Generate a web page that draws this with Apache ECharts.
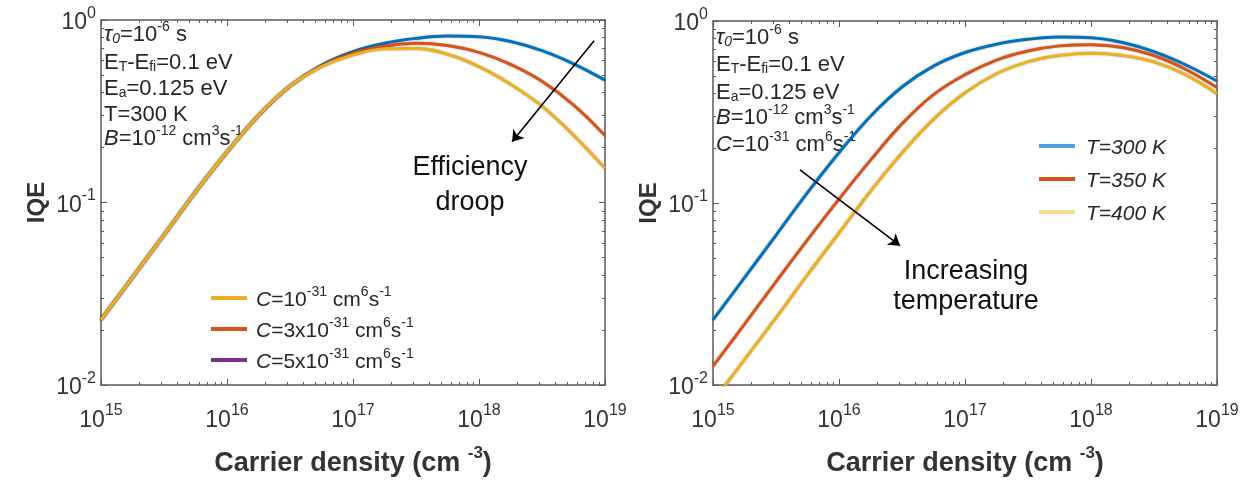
<!DOCTYPE html>
<html>
<head>
<meta charset="utf-8">
<script src="https://cdn.jsdelivr.net/npm/echarts@6/dist/echarts.min.js"></script>
<style>
  html, body { margin: 0; padding: 0; background: #fff; }
  #chart { width: 1249px; height: 482px; }
</style>
</head>
<body>
<div id="chart"></div>
<script>
// ---- data ----
const carrierDensity = [1e15, 1.78e15, 3.16e15, 5.62e15, 1e16, 1.78e16, 3.16e16, 5.62e16, 1e17, 1.78e17, 3.16e17, 5.62e17, 1e18, 1.78e18, 3.16e18, 5.62e18, 1e19];

// left panel: varying Auger coefficient C
const iqeC1 = [0.0228, 0.0389, 0.0664, 0.114, 0.189, 0.300, 0.434, 0.565, 0.671, 0.746, 0.793, 0.817, 0.809, 0.762, 0.679, 0.575, 0.468];
const iqeC3 = [0.0228, 0.0389, 0.0664, 0.114, 0.189, 0.300, 0.434, 0.560, 0.658, 0.721, 0.745, 0.724, 0.665, 0.572, 0.462, 0.343, 0.233];
const iqeC5 = [0.0228, 0.0389, 0.0664, 0.114, 0.189, 0.300, 0.434, 0.555, 0.643, 0.695, 0.698, 0.649, 0.556, 0.445, 0.337, 0.234, 0.154];

// right panel: varying temperature
const iqeT300 = [0.0228, 0.0389, 0.0664, 0.114, 0.189, 0.300, 0.434, 0.565, 0.671, 0.746, 0.793, 0.817, 0.809, 0.762, 0.679, 0.575, 0.468];
const iqeT350 = [0.0127, 0.0216, 0.0369, 0.0627, 0.105, 0.172, 0.272, 0.394, 0.507, 0.610, 0.684, 0.730, 0.741, 0.716, 0.646, 0.543, 0.431];
const iqeT400 = [0.00813, 0.0138, 0.0234, 0.0403, 0.0684, 0.116, 0.188, 0.288, 0.403, 0.513, 0.596, 0.646, 0.665, 0.646, 0.596, 0.507, 0.398];

// annotation arrows (data coordinates)
const droopArrow = [[8.2e18, 0.77], [1.83e18, 0.215]];
const tempArrow = [[4.9e15, 0.152], [3.05e16, 0.0583]];

// ---- styling ----
const F = '"Liberation Sans", Arial, Helvetica, sans-serif';
const BLUE = '#0072BD', RED = '#D95319', YEL = '#EDB120', PURP = '#7E2F8E';
const AXC = '#5a5a5a';
const TXT = '#262626';

const pair = (ys) => carrierDensity.map((x, i) => [x, ys[i]]);

const tickRich = {
  b: { fontSize: 23, lineHeight: 29, verticalAlign: 'bottom', fontFamily: F, color: '#333' },
  s: { fontSize: 16, lineHeight: 16, verticalAlign: 'top', fontFamily: F, color: '#333' }
};
const expFmt = (v) => '{b|10}{s|' + Math.round(Math.log10(v)) + '}';

function xAx(grid, pos, main) {
  return {
    type: 'log', gridIndex: grid, position: pos, min: 1e15, max: 1e19, logBase: 10,
    splitNumber: 4,
    axisLine: { show: true, onZero: false, lineStyle: { color: AXC, width: 1.5 } },
    axisTick: { show: true, inside: true, length: 6, lineStyle: { color: AXC, width: 1 } },
    minorTick: { show: true, splitNumber: 9, length: 3, lineStyle: { color: AXC, width: 1 } },
    splitLine: { show: false },
    axisLabel: main ? { show: true, margin: 18, formatter: expFmt, rich: tickRich } : { show: false },
    name: main ? '{b|Carrier density (cm }{s|-3}{b|)}' : '',
    nameLocation: 'middle', nameGap: 60,
    nameTextStyle: {
      rich: {
        b: { fontSize: 27, fontWeight: 'bold', fontFamily: F, color: '#333', lineHeight: 32, verticalAlign: 'bottom' },
        s: { fontSize: 17, fontWeight: 'bold', fontFamily: F, color: '#333', lineHeight: 17, verticalAlign: 'top' }
      }
    }
  };
}
function yAx(grid, pos, main) {
  return {
    type: 'log', gridIndex: grid, position: pos, min: 0.01, max: 1, logBase: 10,
    splitNumber: 2,
    axisLine: { show: true, onZero: false, lineStyle: { color: AXC, width: 1.5 } },
    axisTick: { show: true, inside: true, length: 6, lineStyle: { color: AXC, width: 1 } },
    minorTick: { show: true, splitNumber: 9, length: 3, lineStyle: { color: AXC, width: 1 } },
    splitLine: { show: false },
    axisLabel: main ? { show: true, margin: 5, formatter: expFmt, rich: tickRich } : { show: false },
    name: main ? 'IQE' : '',
    nameLocation: 'middle', nameGap: 52, nameRotate: 90,
    nameTextStyle: { fontSize: 24, fontWeight: 'bold', fontFamily: F, color: '#333' }
  };
}

const lineStyleOf = (c) => ({ color: c, width: 3, shadowColor: 'rgba(0,0,0,0.35)', shadowBlur: 2 });
function lineSeries(name, ys, c, xi, yi, extra) {
  return Object.assign({
    name, type: 'line', xAxisIndex: xi, yAxisIndex: yi, data: pair(ys),
    smooth: 0.4, showSymbol: false, symbol: 'none', clip: true,
    color: c, lineStyle: lineStyleOf(c), z: 3
  }, extra || {});
}
function arrowMark(pts) {
  return {
    silent: true, animation: false,
    symbol: ['none', 'arrow'], symbolSize: 11,
    label: { show: false },
    emphasis: { disabled: true },
    lineStyle: { color: '#000', width: 1.6, type: 'solid' },
    itemStyle: { color: '#000' },
    data: [[{ coord: pts[0] }, { coord: pts[1] }]]
  };
}

// rich text for parameter annotations
const PR = {
  n: { fontSize: 22, lineHeight: 26, verticalAlign: 'bottom', fontFamily: F, fill: TXT },
  i: { fontSize: 22, lineHeight: 26, verticalAlign: 'bottom', fontFamily: F, fontStyle: 'italic', fill: TXT },
  sup: { fontSize: 14, lineHeight: 14, verticalAlign: 'top', fontFamily: F, fill: TXT },
  sub: { fontSize: 14, lineHeight: 14, verticalAlign: 'bottom', fontFamily: F, fill: TXT },
  isub: { fontSize: 14, lineHeight: 14, verticalAlign: 'bottom', fontFamily: F, fontStyle: 'italic', fill: TXT }
};
const L_TAU = '{i|τ}{isub|0}{n|=10}{sup|-6}{n| s}';
const L_ET = '{n|E}{sub|T}{n|-E}{sub|fi}{n|=0.1 eV}';
const L_EA = '{n|E}{sub|a}{n|=0.125 eV}';
const L_T = '{n|T=300 K}';
const L_B = '{i|B}{n|=10}{sup|-12}{n| cm}{sup|3}{n|s}{sup|-1}';
const L_C = '{i|C}{n|=10}{sup|-31}{n| cm}{sup|6}{n|s}{sup|-1}';

function ptext(x, y, t) {
  return { type: 'text', left: x, top: y, silent: true, style: { text: t, rich: PR, fill: TXT } };
}
function ctext(cx, y, t) {
  return {
    type: 'text', x: cx, y: y, silent: true,
    style: { text: t, fontSize: 27, fontFamily: F, fill: '#111', align: 'center', verticalAlign: 'middle' }
  };
}

const legendRich = {
  n: { fontSize: 21, lineHeight: 26, verticalAlign: 'bottom', fontFamily: F, color: TXT },
  i: { fontSize: 21, lineHeight: 26, verticalAlign: 'bottom', fontFamily: F, fontStyle: 'italic', color: TXT },
  sup: { fontSize: 14, lineHeight: 14, verticalAlign: 'top', fontFamily: F, color: TXT }
};
const cLabels = {
  'C1': '{i|C}{n|=10}{sup|-31}{n| cm}{sup|6}{n|s}{sup|-1}',
  'C3': '{i|C}{n|=3x10}{sup|-31}{n| cm}{sup|6}{n|s}{sup|-1}',
  'C5': '{i|C}{n|=5x10}{sup|-31}{n| cm}{sup|6}{n|s}{sup|-1}'
};
const tLabels = { 'T300': '{i|T=300 K}', 'T350': '{i|T=350 K}', 'T400': '{i|T=400 K}' };

const chart = echarts.init(document.getElementById('chart'), null, { renderer: 'canvas' });
chart.setOption({
  animation: false,
  backgroundColor: '#fff',
  grid: [
    { left: 101, top: 20, width: 504, height: 369, containLabel: false },
    { left: 713, top: 21, width: 504, height: 368, containLabel: false }
  ],
  xAxis: [xAx(0, 'bottom', true), xAx(0, 'top', false), xAx(1, 'bottom', true), xAx(1, 'top', false)],
  yAxis: [yAx(0, 'left', true), yAx(0, 'right', false), yAx(1, 'left', true), yAx(1, 'right', false)],
  legend: [
    {
      orient: 'vertical', left: 206, top: 280, itemGap: 5, itemWidth: 36, itemHeight: 4, icon: 'rect',
      selectedMode: false,
      data: [
        { name: 'C1', itemStyle: { color: YEL } },
        { name: 'C3', itemStyle: { color: RED } },
        { name: 'C5', itemStyle: { color: PURP } }
      ],
      formatter: (n) => cLabels[n],
      textStyle: { rich: legendRich, padding: [0, 0, 0, 4] }
    },
    {
      orient: 'vertical', left: 1034, top: 133, itemGap: 12, itemWidth: 36, itemHeight: 4, icon: 'rect',
      selectedMode: false,
      data: [
        { name: 'T300', itemStyle: { color: '#4DA0DC' } },
        { name: 'T350', itemStyle: { color: RED } },
        { name: 'T400', itemStyle: { color: '#F6D98C' } }
      ],
      formatter: (n) => tLabels[n],
      textStyle: { rich: legendRich, padding: [0, 0, 0, 6] }
    }
  ],
  series: [
    lineSeries('C1', iqeC1, BLUE, 0, 0),
    lineSeries('C3', iqeC3, RED, 0, 0),
    lineSeries('C5', iqeC5, YEL, 0, 0, { markLine: arrowMark(droopArrow) }),
    lineSeries('T300', iqeT300, BLUE, 2, 2),
    lineSeries('T350', iqeT350, RED, 2, 2),
    lineSeries('T400', iqeT400, YEL, 2, 2, { markLine: arrowMark(tempArrow) })
  ],
  graphic: [
    ptext(104, 20, L_TAU), ptext(104, 52, L_ET), ptext(104, 78, L_EA), ptext(104, 104, L_T), ptext(104, 124, L_B),
    ptext(716, 23, L_TAU), ptext(716, 54, L_ET), ptext(716, 82, L_EA), ptext(716, 103, L_B), ptext(716, 130, L_C),
    ctext(470, 168, 'Efficiency'), ctext(470, 203, 'droop'),
    ctext(966, 272, 'Increasing'), ctext(966, 302, 'temperature')
  ]
});
</script>
</body>
</html>
